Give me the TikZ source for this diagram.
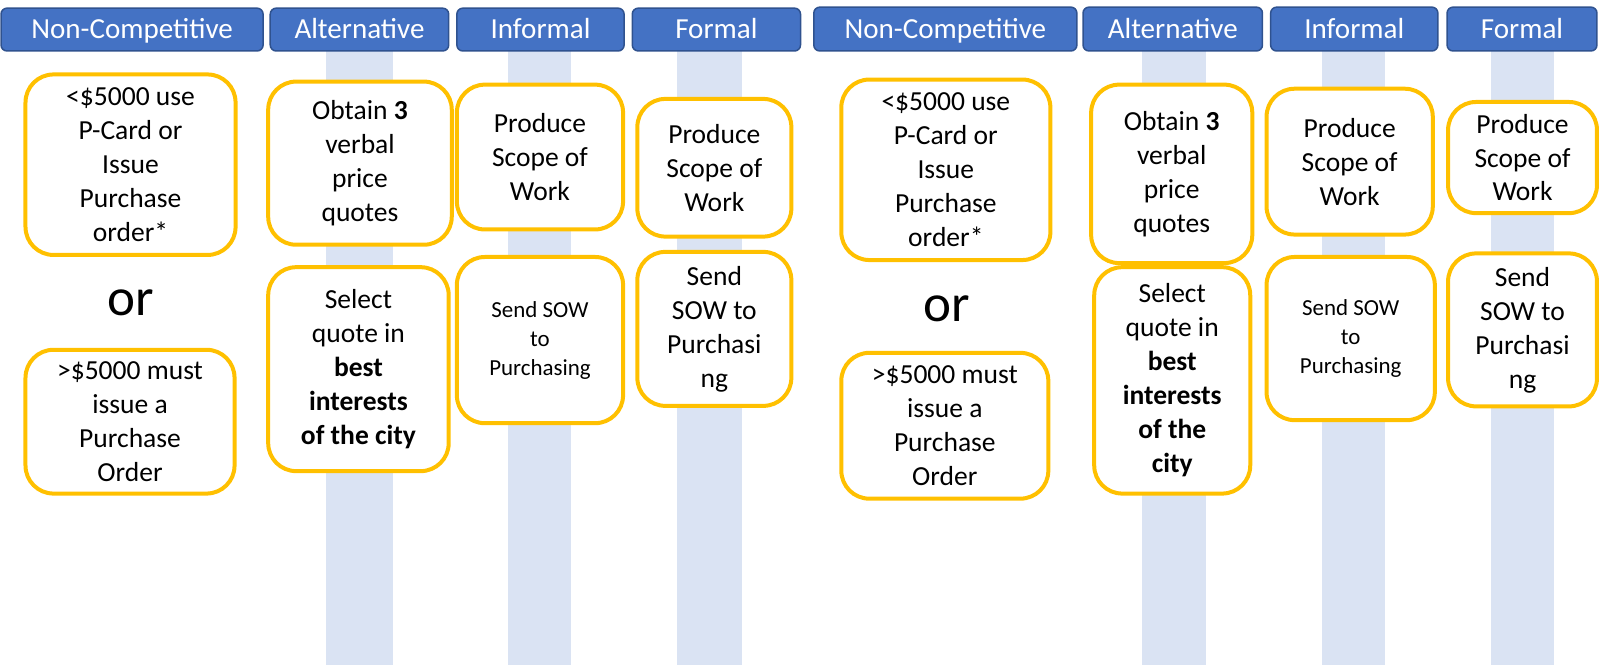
\documentclass[tikz,border=0pt]{standalone}
\usepackage{fontspec}
\setmainfont{Carlito}
\definecolor{hdr}{HTML}{4472C4}
\definecolor{hdrb}{HTML}{2F528F}
\definecolor{stripc}{HTML}{DAE3F3}
\definecolor{gold}{HTML}{FFC000}
\tikzset{
  hdrbox/.style={draw=hdrb, fill=hdr, line width=1.5pt, rounded corners=6pt, text=white, inner sep=0pt,
    text height=18.3pt, text depth=0pt, font=\fontsize{28.5}{30}\selectfont},
  stepbox/.style={draw=gold, fill=white, line width=4pt, rounded corners=28pt, align=center, inner sep=0pt,
    font=\fontsize{27}{33.3}\selectfont},
  smalltext/.style={font=\fontsize{22.5}{28.5}\selectfont},
  ortext/.style={font=\fontsize{52}{60}\selectfont, inner sep=0pt},
  stripfill/.style={fill=stripc}
}
\begin{document}
\begin{tikzpicture}[x=1pt,y=-1pt,scale=1.0198,every node/.append style={transform shape}]
\useasboundingbox (0,0) rectangle (1568,652.09);
\clip (0,0) rectangle (1568,652.09);
% strips
\fill[stripfill] (320,50) rectangle (385,660);
\fill[stripfill] (498,50) rectangle (560,660);
\fill[stripfill] (664,50) rectangle (728,660);
\fill[stripfill] (1120,50) rectangle (1183,660);
\fill[stripfill] (1296,50) rectangle (1358,660);
\fill[stripfill] (1462,50) rectangle (1524,660);
% headers
\node[hdrbox, minimum width=257, minimum height=42] (h1) at (129.5,29) {Non-Competitive};
\node[hdrbox, minimum width=175, minimum height=42] (h2) at (352.5,29) {Alternative};
\node[hdrbox, minimum width=164, minimum height=42] (h3) at (530,29) {Informal};
\node[hdrbox, minimum width=165, minimum height=42] (h4) at (702.5,29) {Formal};
\node[hdrbox, minimum width=258, minimum height=43] (h5) at (927,28.5) {Non-Competitive};
\node[hdrbox, minimum width=176, minimum height=43] (h6) at (1150,28.5) {Alternative};
\node[hdrbox, minimum width=164, minimum height=43] (h7) at (1328,28.5) {Informal};
\node[hdrbox, minimum width=147, minimum height=43] (h8) at (1492.5,28.5) {Formal};
% left boxes
\node[stepbox, minimum width=206, minimum height=177] (a1) at (128,161.5) {<\$5000 use\\P-Card or\\Issue\\Purchase\\order*};
\node[ortext] (or1) at (128,297) {or};
\node[stepbox, minimum width=205, minimum height=141] (a2) at (127.5,413.5) {>\$5000 must\\issue a\\Purchase\\Order};
\node[stepbox, minimum width=180, minimum height=160] (b1) at (353,160) {Obtain \textbf{3}\\verbal\\price\\quotes};
\node[stepbox, minimum width=177, minimum height=200] (b2) at (351.5,362) {Select\\quote in\\\textbf{best}\\\textbf{interests}\\\textbf{of the city}};
\node[stepbox, minimum width=163, minimum height=142] (c1) at (529.5,154) {Produce\\Scope of\\Work};
\node[stepbox, smalltext, minimum width=163, minimum height=163] (c2) at (529.5,333.5) {Send SOW\\to\\Purchasing};
\node[stepbox, minimum width=151, minimum height=135] (d1) at (700.5,164.5) {Produce\\Scope of\\Work};
\node[stepbox, minimum width=151, minimum height=151] (d2) at (700.5,322.5) {Send\\SOW to\\Purchasi\\ng};
% right boxes
\node[stepbox, minimum width=205, minimum height=177] (a3) at (927.5,166.5) {<\$5000 use\\P-Card or\\Issue\\Purchase\\order*};
\node[ortext] (or2) at (928,303) {or};
\node[stepbox, minimum width=203, minimum height=143] (a4) at (926.5,417.5) {>\$5000 must\\issue a\\Purchase\\Order};
\node[stepbox, minimum width=158, minimum height=175] (b3) at (1149,170.5) {Obtain \textbf{3}\\verbal\\price\\quotes};
\node[stepbox, minimum width=153, minimum height=222] (b4) at (1149.5,373) {Select\\quote in\\\textbf{best}\\\textbf{interests}\\\textbf{of the}\\\textbf{city}};
\node[stepbox, minimum width=163, minimum height=143] (c3) at (1323.5,158.5) {Produce\\Scope of\\Work};
\node[stepbox, smalltext, minimum width=165, minimum height=160] (c4) at (1324.5,332) {Send SOW\\to\\Purchasing};
\node[stepbox, minimum width=146, minimum height=109] (d3) at (1493,154.5) {Produce\\Scope of\\Work};
\node[stepbox, minimum width=146, minimum height=150] (d4) at (1493,323.5) {Send\\SOW to\\Purchasi\\ng};
\end{tikzpicture}
\end{document}
